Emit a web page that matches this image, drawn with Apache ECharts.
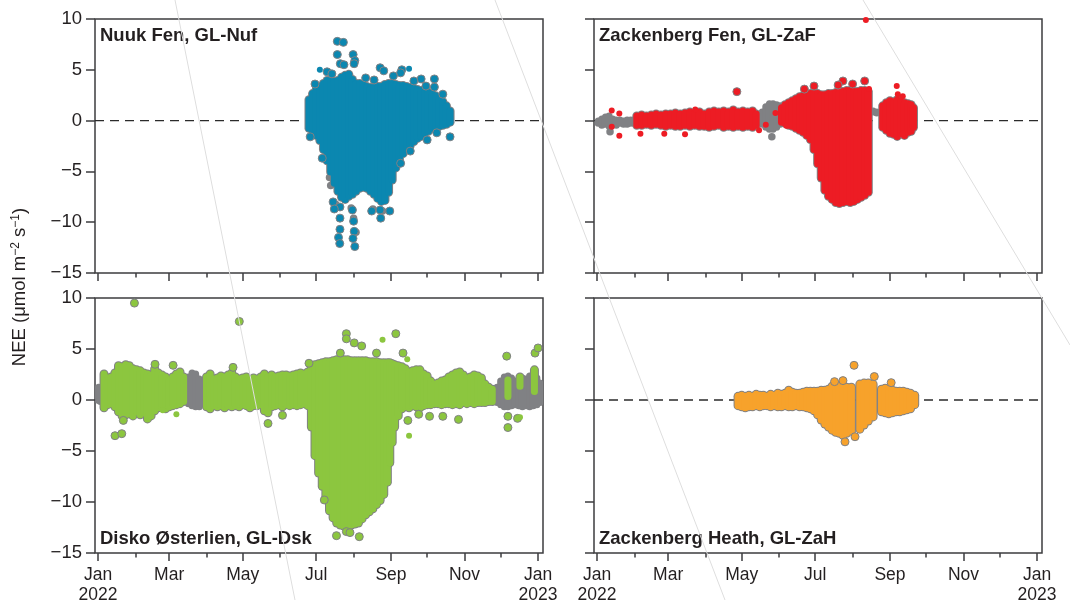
<!DOCTYPE html>
<html>
<head>
<meta charset="utf-8">
<script src="https://cdn.jsdelivr.net/npm/echarts@6/dist/echarts.min.js"></script>
<style>
  html, body { margin: 0; padding: 0; background: #ffffff; }
  #chart { width: 1070px; height: 600px; }
</style>
</head>
<body>
<div id="chart"></div>
<script>
// ---- time helpers ---------------------------------------------------------
const DAY = 86400000;
const T0 = Date.UTC(2022, 0, 1);
const monthNames = ['Jan', 'Feb', 'Mar', 'Apr', 'May', 'Jun', 'Jul', 'Aug', 'Sep', 'Oct', 'Nov', 'Dec'];
const majorTicks = [Date.UTC(2022, 0, 1), Date.UTC(2022, 2, 1), Date.UTC(2022, 4, 1), Date.UTC(2022, 6, 1),
                    Date.UTC(2022, 8, 1), Date.UTC(2022, 10, 1), Date.UTC(2023, 0, 1)];
const minorTicks = [Date.UTC(2022, 1, 1), Date.UTC(2022, 3, 1), Date.UTC(2022, 5, 1),
                    Date.UTC(2022, 7, 1), Date.UTC(2022, 9, 1), Date.UTC(2022, 11, 1)];
const yTicks = [-15, -10, -5, 0, 5, 10];

// ---- NEE data: [day of 2022, upper, lower] spread of the half-hourly cloud ----
// Nuuk Fen
const nufBand = [
  [175, 2.4, -1.1], [178, 3.0, -1.4], [181, 3.4, -1.8], [184, 3.7, -2.3], [187, 4.0, -3.2],
  [190, 4.3, -4.3], [193, 4.3, -5.4], [196, 4.2, -6.5], [199, 4.3, -7.3], [202, 4.6, -7.9],
  [205, 4.8, -8.1], [208, 4.9, -7.8], [211, 4.4, -7.6], [214, 4.0, -7.3], [217, 4.0, -7.0],
  [220, 3.9, -6.9], [223, 3.7, -7.0], [226, 3.6, -7.3], [229, 3.6, -7.6], [232, 3.7, -8.0],
  [235, 3.7, -8.3], [238, 3.9, -8.2], [241, 4.0, -7.4], [244, 4.0, -6.2], [247, 3.9, -5.0],
  [250, 3.8, -4.2], [253, 3.8, -3.6], [256, 3.7, -3.2], [259, 3.6, -2.8], [262, 3.5, -2.4],
  [265, 3.4, -2.1], [268, 3.3, -1.9], [271, 3.2, -1.6], [274, 3.1, -1.4], [277, 3.0, -1.1],
  [280, 2.8, -1.0], [283, 2.5, -0.9], [286, 2.2, -0.8], [289, 1.8, -0.7], [292, 1.3, -0.5]
];
const nufGreyBand = [];
const nufDots = [
  [198.5, 7.8], [203.5, 7.7], [198.5, 6.5], [211.6, 6.5], [213, 5.9], [212.4, 5.6], [201, 5.6],
  [204, 5.5], [234, 5.2], [237, 4.9], [252, 5.0], [251, 4.7], [268, 4.1], [279, 4.1], [272, 3.4],
  [279, 3.3], [286, 2.6], [273, -1.9], [281, -1.2], [292, -1.6], [259, -3.0], [251, -4.2], [186, -3.7],
  [200.7, -8.5], [200.7, -9.6], [200.7, -10.7], [199.5, -11.5], [200.5, -12.1],
  [211, -8.8], [212, -9.9], [212.5, -10.9], [211.5, -11.6], [213, -12.4],
  [234, -8.8], [234.5, -9.6], [227, -8.9], [242, -8.9], [195, -8.0], [196, -8.7],
  [180, 3.6], [190, 4.8], [194, 4.6], [222, 4.2], [229, 4.0], [245, 4.4], [262, 3.9], [176, -1.6]
];
const nufGreyDots = [
  [192, -5.6], [193, -6.4], [197, -8.2], [210, -8.6], [212, -9.6], [214, -11.0], [236, -8.9], [228, -8.7]
];
const nufSpecks = [[184, 5.0], [258, 5.1]];

// Zackenberg Fen
const zafBand = [
  [33, 0.8, -0.8], [37, 0.9, -0.8], [41, 0.8, -0.7], [45, 0.9, -0.8], [49, 1.0, -0.7], [53, 0.9, -0.8],
  [57, 1.0, -0.9], [61, 1.0, -0.8], [65, 1.1, -0.9], [69, 1.0, -0.9], [73, 1.1, -0.8], [77, 1.2, -0.9],
  [81, 1.1, -0.8], [85, 1.2, -0.9], [89, 1.0, -0.9], [93, 1.2, -1.0], [97, 1.3, -0.9], [101, 1.2, -0.8],
  [105, 1.3, -1.0], [109, 1.2, -0.9], [113, 1.4, -1.0], [117, 1.2, -0.9], [121, 1.3, -1.0],
  [125, 1.2, -0.9], [129, 1.3, -1.0], [132, 1.0, -0.8],
  [153, 1.6, -0.5], [156, 1.9, -0.6], [159, 2.1, -0.8], [162, 2.3, -0.9], [165, 2.5, -1.1],
  [168, 2.7, -1.3], [171, 2.8, -1.5], [174, 2.9, -1.8], [177, 3.0, -2.2], [180, 3.0, -3.2],
  [183, 3.0, -4.6], [186, 2.9, -6.0], [189, 2.9, -7.2], [192, 3.0, -7.8], [195, 3.0, -8.1],
  [198, 3.1, -8.4], [201, 3.1, -8.5], [204, 3.2, -8.4], [207, 3.3, -8.3], [210, 3.3, -8.4],
  [213, 3.2, -8.3], [216, 3.2, -8.1], [219, 3.3, -7.9], [222, 3.3, -7.7], [225, 3.2, -7.4],
  [237, 1.8, -1.0], [240, 2.1, -1.3], [243, 2.3, -1.6], [246, 2.2, -1.7], [249, 2.4, -1.9],
  [252, 2.2, -1.6], [255, 2.1, -1.8], [258, 2.0, -1.5], [260.5, 1.9, -1.4], [262.5, 1.6, -1.0]
];
const zafGreyBand = [
  [1, 0.3, -0.6], [4, 0.5, -0.8], [7, 0.7, -0.7], [10, 0.8, -0.9], [13, 0.5, -0.7], [16, 0.4, -0.8],
  [19, 0.4, -0.6], [22, 0.3, -0.7], [25, 0.4, -0.7], [28, 0.4, -0.6], [31, 0.4, -0.6],
  [137, 1.2, -0.7], [140, 1.7, -1.0], [143, 2.0, -1.2], [146, 2.0, -1.2], [149, 1.9, -1.0],
  [152, 1.8, -0.7], [155, 1.6, -0.6],
  [229, 1.3, 0.5], [232, 1.2, 0.4]
];
const zafDots = [[116, 2.85], [204, 3.9], [212, 3.6], [222, 3.9], [180, 3.4], [172, 3.1], [200, 3.5]];
const zafGreyDots = [[145, -1.6], [10.8, -1.1]];
const zafSpecks = [
  [12.2, 1.0], [18.5, 0.7], [12.2, -0.6], [18.5, -1.5], [36, -1.3], [55.8, -1.3], [73, -1.35],
  [81.5, 1.1], [134.4, -0.95], [148, 0.75], [140, -0.4], [157, -0.5], [225.6, 3.1],
  [248.6, 3.4], [249.5, 2.6], [253.6, 2.4], [253.6, -1.3], [223, 9.9]
];

// Disko Østerlien
const dskBand = [
  [5, 2.9, -1.1], [8, 2.5, -0.8], [11, 2.6, -0.7], [14, 3.0, -1.0], [17, 3.7, -1.5], [20, 3.6, -1.9],
  [23, 3.8, -1.8], [26, 3.7, -1.7], [29, 3.4, -1.9], [32, 3.3, -1.5], [35, 3.2, -1.8], [38, 3.0, -1.6],
  [41, 2.9, -2.2], [44, 2.8, -1.9], [47, 3.4, -1.4], [50, 3.0, -1.1], [53, 2.8, -1.0], [56, 2.6, -1.2],
  [59, 2.3, -1.0], [62, 2.6, -0.9], [65, 2.9, -0.8], [68, 3.1, -0.7], [71, 2.6, -0.5],
  [90, 2.6, -1.0], [93, 2.9, -1.2], [96, 2.4, -0.9], [99, 2.5, -1.0], [102, 2.7, -0.9], [105, 2.6, -1.1],
  [108, 2.8, -0.9], [111, 3.0, -1.0], [114, 2.6, -0.9], [117, 2.4, -1.0], [120, 2.5, -0.8],
  [123, 2.6, -0.9], [126, 2.3, -1.1], [129, 2.5, -0.9], [132, 2.4, -0.9], [135, 2.6, -0.8],
  [138, 2.9, -1.4], [141, 2.6, -1.6], [144, 2.8, -1.0], [147, 2.6, -0.9], [150, 2.7, -0.8],
  [153, 2.8, -1.0], [156, 2.8, -0.8], [159, 2.7, -0.9], [162, 2.8, -0.8], [165, 2.9, -0.9],
  [168, 3.0, -0.8], [171, 2.9, -0.7], [174, 3.1, -0.9], [177, 3.5, -3.0], [180, 3.8, -5.8],
  [183, 3.9, -7.5], [186, 4.0, -8.8], [189, 4.1, -10.0], [192, 4.1, -11.2], [195, 4.2, -11.9],
  [198, 4.3, -12.4], [201, 4.3, -12.6], [204, 4.3, -12.7], [207, 4.3, -12.7], [210, 4.2, -12.6],
  [213, 4.2, -12.5], [216, 4.2, -12.4], [219, 4.2, -12.0], [222, 4.2, -11.6], [225, 4.1, -11.3],
  [228, 4.1, -11.0], [231, 4.1, -10.6], [234, 4.0, -10.2], [237, 4.0, -9.6], [240, 4.0, -8.4],
  [242, 4.0, -6.5], [244, 3.9, -4.5], [246, 3.8, -3.0], [249, 3.7, -1.9], [252, 3.6, -1.2],
  [255, 3.4, -1.0], [258, 3.1, -1.1], [261, 3.2, -0.9], [264, 3.3, -1.0], [267, 3.3, -1.1],
  [270, 2.9, -0.9], [273, 2.7, -0.8], [276, 2.2, -0.8], [279, 1.9, -0.7], [282, 2.0, -0.7],
  [285, 2.2, -0.8], [288, 2.3, -0.7], [291, 2.6, -0.7], [294, 2.8, -0.8], [297, 3.0, -0.7],
  [300, 3.1, -0.8], [303, 2.8, -0.6], [306, 2.5, -0.7], [309, 2.6, -0.6], [312, 2.8, -0.7],
  [315, 2.7, -0.6], [318, 2.5, -0.6], [321, 1.9, -0.6], [324, 1.6, -0.5], [327, 1.4, -0.5],
  [340, 2.3, 0.0], [350, 2.6, 1.0], [362, 3.3, 0.5]
];
const dskGreyBand = [
  [0.5, 1.6, -0.4], [2, 1.5, -0.5],
  [75, 2.6, -0.7], [78, 3.0, -0.9], [81, 2.9, -1.0], [84, 2.4, -1.0],
  [331, 1.6, -0.6], [334, 2.2, -0.8], [337, 2.6, -1.0], [340, 2.7, -1.0], [343, 2.5, -0.9],
  [346, 2.2, -0.8], [349, 2.3, -0.9], [352, 2.5, -1.0], [355, 2.4, -0.9], [358, 2.7, -1.0],
  [361, 2.8, -0.9], [364, 2.5, -0.8], [366.5, 2.0, -0.6]
];
const dskDots = [
  [30.2, 9.5], [117.2, 7.7], [14.1, -3.5], [19.7, -3.3], [21, -2.0], [62.3, 3.4], [47.3, 3.5],
  [112, 3.2], [141, -2.3], [153, -1.5], [197.8, -13.3], [216.7, -13.4], [187.7, -9.8],
  [206, 6.5], [206, 6.0], [247, 6.5], [212.5, 5.6], [218.7, 5.3], [201, 4.6], [231, 4.6],
  [175, 3.6], [253, 4.6], [257, -2.0], [266, -1.4], [275, -1.6], [286, -1.6], [299, -1.9],
  [339, 4.3], [362.5, 4.6], [365, 5.1], [340, -2.7], [340, -1.6], [348, -1.8], [206, -12.9], [209, -13.0]
];
const dskGreyDots = [];
const dskSpecks = [[53.7, -1.0], [65, -1.4], [236, 5.9], [256.5, 4.0], [258, -3.5], [350, -1.7]];

// Zackenberg Heath
const zahBand = [
  [117, 0.7, -0.9], [120, 0.8, -1.0], [123, 0.7, -1.1], [126, 0.8, -1.0], [129, 0.7, -1.0],
  [132, 0.9, -0.9], [135, 0.8, -1.0], [138, 0.8, -0.9], [141, 0.7, -0.9], [144, 0.9, -1.0],
  [147, 0.8, -0.9], [150, 1.0, -1.0], [153, 0.9, -1.0], [156, 1.0, -0.9], [159, 1.3, -1.0],
  [162, 1.1, -1.0], [165, 1.0, -0.9], [168, 1.0, -1.0], [171, 1.1, -1.0], [174, 1.2, -1.1],
  [177, 1.2, -1.2], [180, 1.2, -1.4], [183, 1.2, -1.8], [186, 1.3, -2.3], [189, 1.3, -2.7],
  [192, 1.4, -3.0], [195, 1.7, -3.3], [198, 1.8, -3.5], [201, 1.8, -3.6], [204, 1.7, -3.8],
  [207, 1.6, -3.6], [211, 1.6, -3.4],
  [218, 1.9, -3.2], [221.5, 2.0, -2.8], [225, 2.0, -2.4], [229, 1.9, -2.0],
  [236, 1.4, -1.5], [239, 1.5, -1.6], [242, 1.4, -1.7], [245, 1.3, -1.6], [248, 1.2, -1.5],
  [251, 1.2, -1.5], [254, 1.2, -1.4], [257, 1.1, -1.3], [260, 1.0, -1.2], [263.5, 0.8, -0.8]
];
const zahGreyBand = [];
const zahDots = [[213.2, 3.4], [230, 2.3], [204, 1.9], [197, 1.8], [244, 1.7], [205.7, -4.1], [214, -3.6]];
const zahGreyDots = [];
const zahSpecks = [];

// ---- panels ---------------------------------------------------------------
const panels = [
  { title: 'Nuuk Fen, GL-Nuf', color: '#0b87b0', band: nufBand, greyBand: nufGreyBand, dots: nufDots, greyDots: nufGreyDots, specks: nufSpecks,
    grid: { left: 95, top: 19, width: 448, height: 254 }, titleY: 36, yLabels: true, xLabels: false },
  { title: 'Zackenberg Fen, GL-ZaF', color: '#ed1c24', band: zafBand, greyBand: zafGreyBand, dots: zafDots, greyDots: zafGreyDots, specks: zafSpecks,
    grid: { left: 594, top: 19, width: 448, height: 254 }, titleY: 36, yLabels: false, xLabels: false },
  { title: 'Disko Østerlien, GL-Dsk', color: '#8cc63f', band: dskBand, greyBand: dskGreyBand, dots: dskDots, greyDots: dskGreyDots, specks: dskSpecks,
    grid: { left: 95, top: 298, width: 448, height: 255 }, titleY: 539, yLabels: true, xLabels: true },
  { title: 'Zackenberg Heath, GL-ZaH', color: '#f7a22b', band: zahBand, greyBand: zahGreyBand, dots: zahDots, greyDots: zahGreyDots, specks: zahSpecks,
    grid: { left: 594, top: 298, width: 448, height: 255 }, titleY: 539, yLabels: false, xLabels: true }
];

const GREY = '#808184';
const INK = '#231f20';
const FRAME = '#3d3d3f';
const FONT = '"Liberation Sans", Arial, Helvetica, sans-serif';
const X_MIN = T0 - 2.5 * DAY;
const X_MAX = T0 + 369.1 * DAY;
const CAP_W = 7;

const toTime = d => T0 + d * DAY;
const bandData = rows => rows.map(r => [toTime(r[0]), r[1], r[2]]);
const pointData = rows => rows.map(r => [toTime(r[0]), r[1]]);

// vertical capsule spanning [lower, upper] at one day; pad widens it for the grey rim
function capsule(color, pad) {
  return function (params, api) {
    const top = api.coord([api.value(0), api.value(1)]);
    const bot = api.coord([api.value(0), api.value(2)]);
    const w = CAP_W + 2 * pad;
    let y0 = top[1] - pad;
    let h = bot[1] - top[1] + 2 * pad;
    if (h < w) { y0 -= (w - h) / 2; h = w; }
    return {
      type: 'rect',
      shape: { x: top[0] - w / 2, y: y0, width: w, height: h, r: w / 2 },
      style: { fill: color }
    };
  };
}

const monthLabel = v => {
  const d = new Date(v);
  const m = monthNames[d.getUTCMonth()];
  return d.getUTCMonth() === 0 ? m + '\n' + d.getUTCFullYear() : m;
};

const grids = [], xAxes = [], yAxes = [], series = [], graphics = [];

panels.forEach((p, g) => {
  grids.push(Object.assign({
    show: true, borderColor: FRAME, borderWidth: 1.5, backgroundColor: 'transparent',
    containLabel: false, outerBoundsMode: 'none'
  }, p.grid));

  // major month ticks (with labels on the lower row); values are UTC milliseconds
  xAxes.push({
    type: 'value', gridIndex: g, min: X_MIN, max: X_MAX, position: 'bottom',
    axisLine: { show: false, onZero: false }, splitLine: { show: false },
    axisTick: { show: true, customValues: majorTicks, length: 8, lineStyle: { color: FRAME, width: 1.5 } },
    axisLabel: {
      show: p.xLabels, customValues: majorTicks, margin: 12, fontSize: 17.5, lineHeight: 20,
      color: INK, fontFamily: FONT, formatter: monthLabel
    }
  });
  // minor month ticks
  xAxes.push({
    type: 'value', gridIndex: g, min: X_MIN, max: X_MAX, position: 'bottom',
    axisLine: { show: false, onZero: false }, splitLine: { show: false },
    axisTick: { show: true, customValues: minorTicks, length: 4.5, lineStyle: { color: FRAME, width: 1.5 } },
    axisLabel: { show: false }
  });

  yAxes.push({
    type: 'value', gridIndex: g, min: -15, max: 10, interval: 5, position: 'left',
    axisLine: { show: false, onZero: false }, splitLine: { show: false },
    axisTick: { show: true, customValues: yTicks, length: 9, lineStyle: { color: FRAME, width: 1.5 } },
    axisLabel: {
      show: p.yLabels, customValues: yTicks, margin: 13, fontSize: 18.5, color: INK, fontFamily: FONT,
      formatter: v => (v < 0 ? '\u2212' + Math.abs(v) : String(v))
    }
  });

  const xi = 2 * g, yi = g;

  // zero reference line
  series.push({
    type: 'line', xAxisIndex: xi, yAxisIndex: yi, z: 1, silent: true, symbol: 'none',
    data: [[X_MIN, 0], [X_MAX, 0]],
    lineStyle: { color: '#2b2b2b', width: 1.3, type: [9, 6] }
  });
  // grey (gap) cloud
  series.push({
    type: 'custom', xAxisIndex: xi, yAxisIndex: yi, z: 2, clip: true, silent: true,
    renderItem: capsule(GREY, 0), encode: { x: 0, y: [1, 2] }, data: bandData(p.greyBand)
  });
  series.push({
    type: 'scatter', xAxisIndex: xi, yAxisIndex: yi, z: 3, silent: true,
    symbolSize: 7.5, itemStyle: { color: GREY, opacity: 1 }, data: pointData(p.greyDots)
  });
  // grey rim of the coloured cloud
  series.push({
    type: 'custom', xAxisIndex: xi, yAxisIndex: yi, z: 4, clip: true, silent: true,
    renderItem: capsule(GREY, 1), encode: { x: 0, y: [1, 2] }, data: bandData(p.band)
  });
  // coloured cloud
  series.push({
    type: 'custom', xAxisIndex: xi, yAxisIndex: yi, z: 5, clip: true, silent: true,
    renderItem: capsule(p.color, 0), encode: { x: 0, y: [1, 2] }, data: bandData(p.band)
  });
  // single points
  series.push({
    type: 'scatter', xAxisIndex: xi, yAxisIndex: yi, z: 6, silent: true,
    symbolSize: 8, itemStyle: { color: p.color, borderColor: GREY, borderWidth: 1, opacity: 1 },
    data: pointData(p.dots)
  });
  series.push({
    type: 'scatter', xAxisIndex: xi, yAxisIndex: yi, z: 6, silent: true,
    symbolSize: 6, itemStyle: { color: p.color, opacity: 1 }, data: pointData(p.specks)
  });

  graphics.push({
    type: 'text', x: p.grid.left + 5, y: p.titleY, z: 20,
    style: { text: p.title, font: 'bold 18.5px ' + FONT, fill: INK, align: 'left', verticalAlign: 'middle' }
  });
});

// shared y-axis title
graphics.push({
  type: 'text', x: 20, y: 287, rotation: Math.PI / 2, z: 20,
  style: {
    text: '{a|NEE (\u03bcmol m}{s|\u22122}{a| s}{s|\u22121}{a|)}',
    align: 'center', verticalAlign: 'middle',
    rich: {
      a: { fontSize: 18.5, fontFamily: FONT, fill: INK, lineHeight: 21 },
      s: { fontSize: 12, fontFamily: FONT, fill: INK, lineHeight: 12, verticalAlign: 'top' }
    }
  }
});

// faint hairlines crossing the sheet
[[175, 0, 295, 600], [495, 0, 725, 600], [863, 0, 1070, 345]].forEach(l => {
  graphics.push({
    type: 'line', z: 30, silent: true,
    shape: { x1: l[0], y1: l[1], x2: l[2], y2: l[3] },
    style: { stroke: '#dedede', lineWidth: 1 }
  });
});

const chart = echarts.init(document.getElementById('chart'), null, { renderer: 'canvas' });
chart.setOption({
  animation: false,
  backgroundColor: '#ffffff',
  grid: grids,
  xAxis: xAxes,
  yAxis: yAxes,
  series: series,
  graphic: graphics
});
</script>
</body>
</html>
